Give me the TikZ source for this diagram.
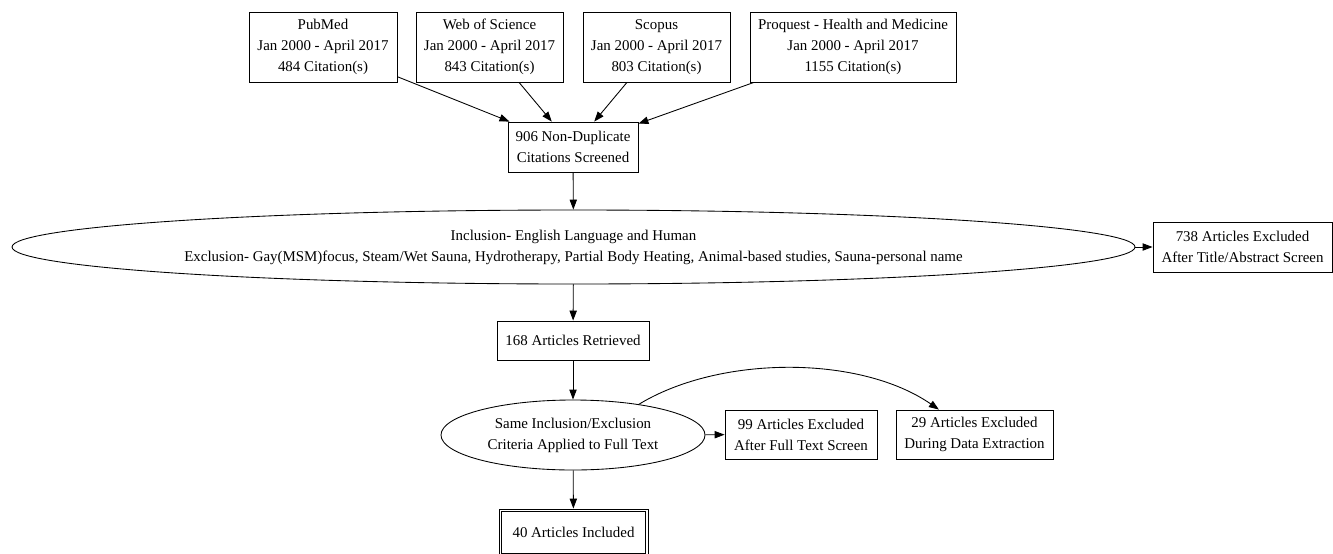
\documentclass[tikz,border=0pt]{standalone}
\usepackage{fontspec}
\setmainfont{Liberation Serif}
\usetikzlibrary{shapes.geometric,arrows.meta}
\begin{document}
\begin{tikzpicture}[x=0.75pt,y=-0.75pt,
  every node/.style={font=\fontsize{11.2}{15.75}\selectfont, align=center, inner sep=0pt},
  box/.style={draw, rectangle, line width=0.65pt},
  oval/.style={draw, ellipse, line width=0.65pt},
  edge/.style={-{Triangle[length=7.5pt,width=5.5pt]}, line width=0.65pt}]
\useasboundingbox (0,0) rectangle (1333,553);
\clip (0,0) rectangle (1333,553);

\node[box, minimum width=111pt, minimum height=52.5pt] (pub) at (323,47)
  {PubMed\\Jan 2000 - April 2017\\484 Citation(s)};
\node[box, minimum width=110.25pt, minimum height=52.5pt] (wos) at (489.5,47)
  {Web of Science\\Jan 2000 - April 2017\\843 Citation(s)};
\node[box, minimum width=110.25pt, minimum height=52.5pt] (sco) at (656.5,47)
  {Scopus\\Jan 2000 - April 2017\\803 Citation(s)};
\node[box, minimum width=154.5pt, minimum height=52.5pt] (pro) at (853,47)
  {Proquest - Health and Medicine\\Jan 2000 - April 2017\\1155 Citation(s)};

\node[box, minimum width=97.5pt, minimum height=37.5pt] (n906) at (573,147)
  {906 Non-Duplicate\\Citations Screened};

\node[oval, minimum width=842.25pt, minimum height=55.5pt] (ell) at (573.5,247)
  {Inclusion- English Language and Human\\Exclusion- Gay(MSM)focus, Steam/Wet Sauna, Hydrotherapy, Partial Body Heating, Animal-based studies, Sauna-personal name};

\node[box, minimum width=134.25pt, minimum height=37.5pt] (x738) at (1242.5,247)
  {738 Articles Excluded\\After Title/Abstract Screen};

\node[box, minimum width=114pt, minimum height=29.25pt] (n168) at (573,340.5)
  {168 Articles Retrieved};

\node[oval, minimum width=198pt, minimum height=52.5pt] (ell2) at (573,435)
  {Same Inclusion/Exclusion\\Criteria Applied to Full Text};

\node[box, minimum width=114pt, minimum height=36.75pt] (x99) at (801,434.5)
  {99 Articles Excluded\\After Full Text Screen};
\node[box, minimum width=117.75pt, minimum height=36.75pt] (x29) at (974.5,434.5)
  {29 Articles Excluded\\During Data Extraction};

\node[box, minimum width=111.75pt, minimum height=35.25pt] (n40) at (573.5,532.5)
  {40 Articles Included};
\draw[line width=0.65pt] ([shift={(3,3)}]n40.north west) rectangle ([shift={(-3,-3)}]n40.south east);

\draw[edge] (pub) -- (n906);
\draw[edge] (wos) -- (n906);
\draw[edge] (sco) -- (n906);
\draw[edge] (pro) -- (n906);
\draw[edge] (n906) -- (ell);
\draw[edge] (ell) -- (x738);
\draw[edge] (ell) -- (n168);
\draw[edge] (n168) -- (ell2);
\draw[edge] (ell2) -- (x99);
\draw[edge] (ell2.25) .. controls (720,355) and (860,355) .. (x29.145);
\draw[edge] (ell2) -- (n40);
\end{tikzpicture}
\end{document}
